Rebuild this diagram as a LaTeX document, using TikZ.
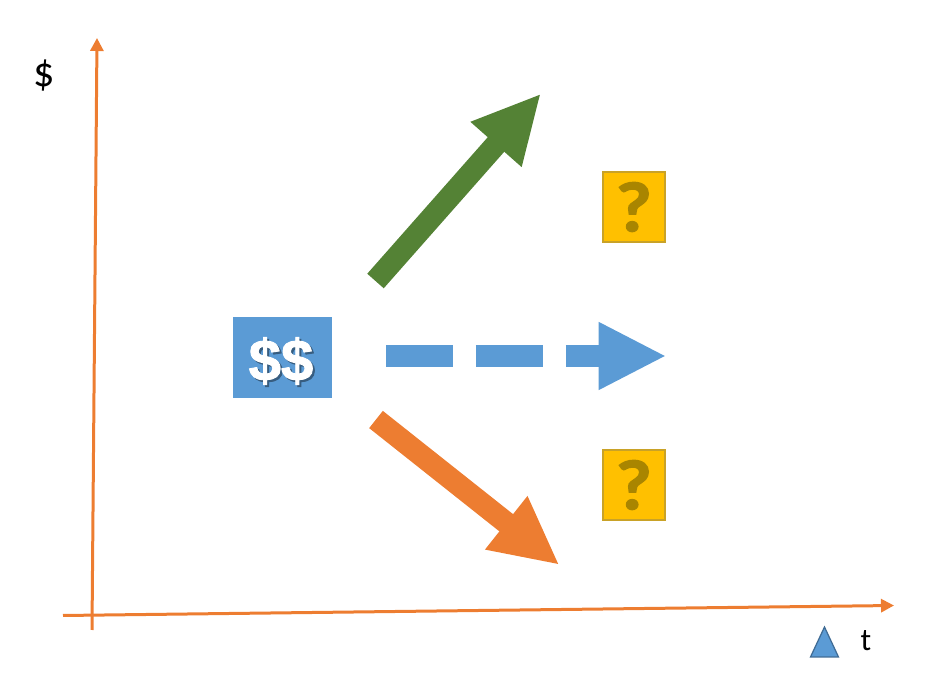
\documentclass[tikz,border=0pt]{standalone}
\usepackage{fontspec}
\usetikzlibrary{arrows.meta}
\setmainfont{Carlito}
\newfontfamily\signfont[FakeBold=1.6]{Liberation Sans Bold}
\newfontfamily\askfont[FakeBold=2.2, FakeStretch=1.12]{Lato Bold}
\definecolor{axisorange}{HTML}{ED7D31}
\definecolor{moneyblue}{HTML}{5B9BD5}
\definecolor{upgreen}{HTML}{548235}
\definecolor{askyellow}{HTML}{FFC000}
\definecolor{askborder}{HTML}{C9A227}
\definecolor{askmark}{HTML}{A98500}
\tikzset{
    axisline/.style={draw=axisorange, line width=0.06cm, -{Triangle[length=0.26cm, width=0.26cm]}},
    bigarrow/.style={line width=0.44cm, -{Triangle[length=1.36cm, width=1.26cm]}},
    askbox/.style={draw=askborder, line width=0.035cm, fill=askyellow, minimum width=1.24cm, minimum height=1.4cm, inner sep=0pt, text=askmark, font=\askfont\fontsize{38}{38}\selectfont},
    axislabel/.style={inner sep=0pt, font=\fontsize{18}{18}\selectfont},
    moneytext/.style={inner sep=0pt, font=\signfont\fontsize{33}{33}\selectfont}
}
\begin{document}
\begin{tikzpicture}[x=0.02cm, y=-0.02cm]
    \useasboundingbox (0, 0) rectangle (934, 678);

    % Axes
    \coordinate (yfoot) at (92, 630);
    \coordinate (ytop) at (97, 38);
    \coordinate (xfoot) at (63, 615.5);
    \coordinate (xend) at (894, 605.5);
    \draw[axisline] (yfoot) -- (ytop);
    \draw[axisline] (xfoot) -- (xend);
    \node[axislabel, font=\fontsize{24}{24}\selectfont] (dollarlabel) at (44, 76) {\$};
    \node[axislabel] (timelabel) at (866, 641) {t};

    % Marker
    \draw[draw=moneyblue!70!black, line width=0.025cm, fill=moneyblue] (810.5, 657) -- (824.5, 627) -- (838.5, 657) -- cycle;

    % Start value
    \node[fill=moneyblue, minimum width=1.98cm, minimum height=1.62cm, inner sep=0pt] (money) at (282.5, 357.5) {};
    \node[moneytext, text=moneyblue!60!black] (moneyshadow) at (283, 363) {\$\$};
    \node[moneytext, text=white] (moneytext) at (281, 361) {\$\$};

    % Outcomes
    \coordinate (upstart) at (375.5, 281);
    \coordinate (uptip) at (541, 93.5);
    \draw[bigarrow, upgreen] (upstart) -- (uptip);

    \coordinate (flatstart) at (386, 356);
    \coordinate (flattip) at (666.5, 356);
    \draw[bigarrow, moneyblue, dash pattern=on 1.34cm off 0.46cm] (flatstart) -- (flattip);

    \coordinate (downstart) at (376, 419.5);
    \coordinate (downtip) at (559.5, 565);
    \draw[bigarrow, axisorange] (downstart) -- (downtip);

    % Unknowns
    \node[askbox] (askup) at (634, 207) {?};
    \node[askbox] (askdown) at (634, 485) {?};
\end{tikzpicture}
\end{document}
